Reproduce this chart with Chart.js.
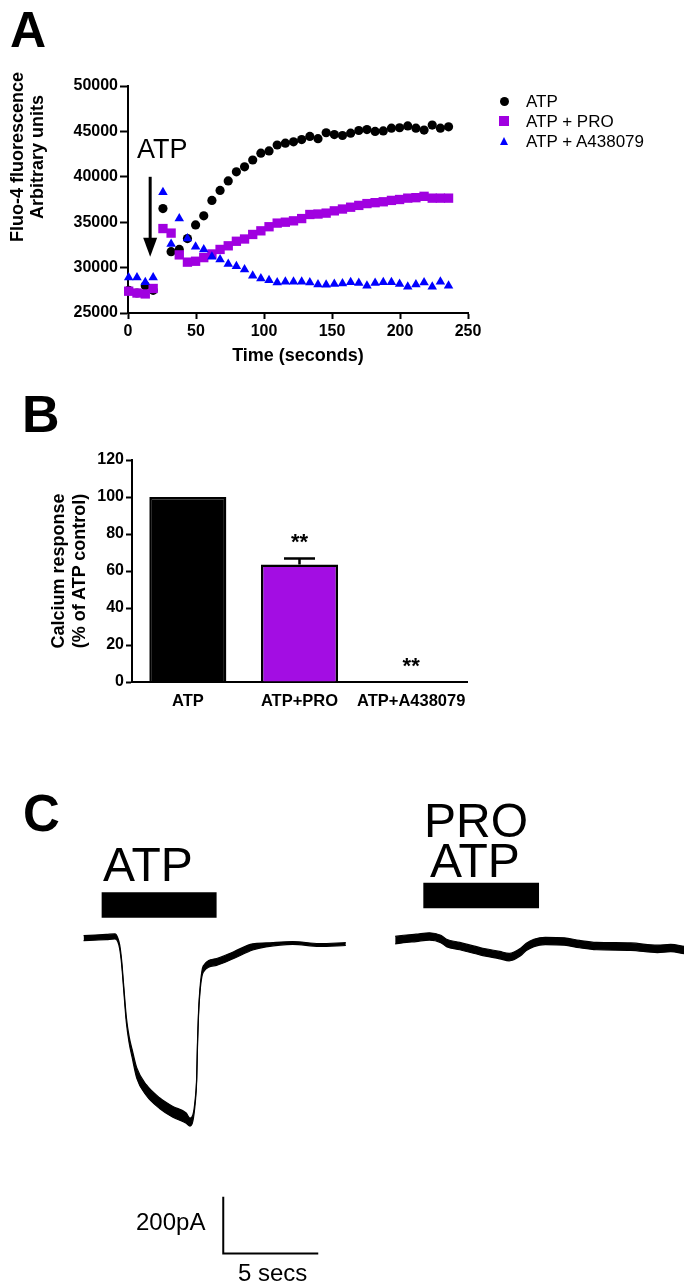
<!DOCTYPE html>
<html><head><meta charset="utf-8">
<script src="https://cdn.jsdelivr.net/npm/chart.js"></script>
<style>
html,body{margin:0;padding:0;background:#fff;}
#wrap{position:relative;width:692px;height:1288px;overflow:hidden;background:#fff;font-family:'Liberation Sans',Arial,sans-serif;color:#000;}
canvas{position:absolute;left:0;}
.t{position:absolute;white-space:nowrap;line-height:1;}
.b{font-weight:bold;}
.yt{position:absolute;width:240px;text-align:center;font-weight:bold;transform:rotate(-90deg);white-space:nowrap;}
.mk{position:absolute;}
</style></head><body>
<div id="wrap">
<canvas id="cA" width="692" height="370" style="top:0"></canvas>
<canvas id="cB" width="692" height="340" style="top:380px"></canvas>
<canvas id="cC" width="692" height="508" style="top:780px"></canvas>

<div class="t b" style="font-size:50px;left:10px;top:5px;">A</div>
<div class="t b" style="font-size:52px;left:22px;top:388px;">B</div>
<div class="t b" style="font-size:51px;left:23px;top:788px;">C</div>

<div class="yt" style="font-size:18px;line-height:20px;left:-93px;top:137px;">Fluo-4 fluorescence<br>Arbitrary units</div>
<div class="t" style="font-size:27px;left:137px;top:136px;">ATP</div>

<div class="mk" style="left:499.5px;top:96.5px;width:9px;height:9px;border-radius:50%;background:#000;"></div>
<div class="mk" style="left:499px;top:116px;width:10px;height:10px;background:#a000e0;"></div>
<div class="mk" style="left:499.5px;top:136.5px;width:0;height:0;border-left:4.5px solid transparent;border-right:4.5px solid transparent;border-bottom:8px solid #0000ff;"></div>
<div class="t" style="font-size:17px;left:526px;top:92.5px;">ATP</div>
<div class="t" style="font-size:17px;left:526px;top:112.5px;">ATP + PRO</div>
<div class="t" style="font-size:17px;left:526px;top:132.5px;">ATP + A438079</div>

<div class="yt" style="font-size:18px;line-height:21px;left:-51.5px;top:550px;">Calcium response<br>(% of ATP control)</div>

<div class="t" style="font-size:48px;left:103px;top:841px;">ATP</div>
<div class="t" style="font-size:48px;left:424px;top:797px;">PRO</div>
<div class="t" style="font-size:48px;left:430px;top:837px;">ATP</div>
<div class="t" style="font-size:24px;left:136px;top:1210px;">200pA</div>
<div class="t" style="font-size:24px;left:238px;top:1261px;">5 secs</div>
</div>
<script>
// ---------- Panel A data ----------
const timeSec = [0.5, 6.6, 12.7, 18.5, 25.7, 31.7, 37.7, 43.7, 49.7, 55.7, 61.7, 67.7, 73.7, 79.7, 85.7, 91.7, 97.7, 103.7, 109.7, 115.7, 121.7, 127.7, 133.7, 139.7, 145.7, 151.7, 157.7, 163.7, 169.7, 175.7, 181.7, 187.7, 193.7, 199.7, 205.7, 211.7, 217.7, 223.7, 229.7, 235.7];
const atpValues = [27500, 27200, 28000, 27500, 36500, 31750, 32000, 33200, 34700, 35700, 37400, 38500, 39550, 40550, 41100, 41850, 42600, 42850, 43500, 43700, 43850, 44100, 44450, 44200, 44850, 44650, 44550, 44800, 45100, 45200, 45000, 45050, 45350, 45400, 45600, 45350, 45150, 45700, 45350, 45500];
const atpProValues = [27400, 27200, 27100, 27700, 34300, 33800, 31400, 30600, 30700, 31100, 31500, 32000, 32400, 32900, 33150, 33650, 34050, 34500, 34900, 35000, 35150, 35400, 35850, 35900, 36000, 36250, 36450, 36650, 36850, 37050, 37150, 37250, 37400, 37500, 37650, 37700, 37850, 37650, 37650, 37650];
const atpA438079Values = [28900, 28900, 28400, 28900, 38300, 32600, 35400, 33200, 32300, 32000, 31200, 30900, 30400, 30150, 29800, 29100, 28800, 28600, 28350, 28450, 28450, 28450, 28350, 28150, 28100, 28200, 28250, 28400, 28300, 28000, 28300, 28400, 28400, 28200, 27900, 28150, 28350, 27900, 28450, 28000];
const xTicksA = [0, 50, 100, 150, 200, 250];
const yTicksA = [25000, 30000, 35000, 40000, 45000, 50000];
const arrowA = {x: 16.3, top: 40000, headBase: 33300, tip: 31200};

// ---------- Panel B data ----------
const groupLabels = ['ATP', 'ATP+PRO', 'ATP+A438079'];
const responsePct = [100, 63.5, 0];
const responseSem = [0, 3.3, 0];
const significance = ['', '**', '**'];
const yTicksB = [0, 20, 40, 60, 80, 100, 120];

// ---------- Panel C data (time in s, current in pA) ----------
const trace1Time  = [4.4, 5.0, 5.6, 6.05, 6.2, 6.3, 6.4, 6.5, 6.65, 6.8, 6.95, 7.2, 7.7, 8.4, 9.1, 9.8, 10.0, 10.15, 10.28, 10.35, 10.4, 10.45, 10.55, 10.7, 11.4, 12.3, 13.3, 14.0, 15.4, 16.8, 18.2];
const trace1Upper = [5, 7, 9, 11, -3, -28, -81, -163, -284, -353, -396, -463, -522, -568, -599, -622, -640, -629, -569, -500, -359, -264, -163, -102, -76, -52, -24, -21, -16, -23, -20];
const trace1Lower = [-13, -11, -9, -7, -17, -42, -95, -177, -302, -375, -424, -499, -560, -606, -637, -658, -668, -651, -583, -510, -369, -274, -177, -124, -100, -76, -46, -35, -26, -33, -30];
const trace2Time  = [20.8, 21.4, 21.9, 22.6, 23.2, 23.5, 24.2, 25.3, 26.3, 26.8, 27.4, 27.7, 28.1, 28.7, 29.7, 30.5, 31.4, 33.2, 34.6, 35.3, 36.0];
const trace2Upper = [2, 7, 10, 15, 6, -8, -19, -38, -51, -58, -40, -22, -8, -1, -3, -12, -19, -21, -29, -26, -33];
const trace2Lower = [-24, -19, -16, -11, -20, -34, -45, -64, -77, -84, -66, -48, -34, -27, -29, -38, -45, -47, -55, -52, -59];
const atpBar1 = {start: 5.35, end: 11.4, level: 113};
const atpBar2 = {start: 22.28, end: 28.37, level: 147};
const scaleBar = {x: 11.75, y: -1118, secs: 5, pA: 200};

const FONT = "'Liberation Sans', Arial, sans-serif";
Chart.defaults.font.family = FONT;
Chart.defaults.color = '#000';

// ---------- Chart A ----------
const pts = arr => timeSec.map((t, i) => ({x: t, y: arr[i]}));
const arrowPlugin = {
  id: 'arrowA',
  afterDatasetsDraw(chart) {
    const {ctx, scales: {x, y}} = chart;
    const px = x.getPixelForValue(arrowA.x);
    ctx.save();
    ctx.strokeStyle = '#000'; ctx.fillStyle = '#000'; ctx.lineWidth = 3;
    ctx.beginPath();
    ctx.moveTo(px, y.getPixelForValue(arrowA.top));
    ctx.lineTo(px, y.getPixelForValue(arrowA.headBase) + 2);
    ctx.stroke();
    const hb = y.getPixelForValue(arrowA.headBase), tp = y.getPixelForValue(arrowA.tip);
    ctx.beginPath();
    ctx.moveTo(px - 7, hb); ctx.lineTo(px + 7, hb); ctx.lineTo(px, tp); ctx.closePath();
    ctx.fill();
    ctx.restore();
  }
};
new Chart(document.getElementById('cA'), {
  type: 'scatter',
  data: {
    datasets: [
      {label: 'ATP + A438079', data: pts(atpA438079Values), pointStyle: 'triangle', pointRadius: 5.5, backgroundColor: '#0000ff', borderColor: '#0000ff', borderWidth: 0, order: 0, clip: false},
      {label: 'ATP + PRO', data: pts(atpProValues), pointStyle: 'rect', pointRadius: 6.6, backgroundColor: '#a000e0', borderColor: '#a000e0', borderWidth: 0, order: 1, clip: false},
      {label: 'ATP', data: pts(atpValues), pointStyle: 'circle', pointRadius: 4.6, backgroundColor: '#000', borderColor: '#000', borderWidth: 0, order: 2, clip: false}
    ]
  },
  options: {
    responsive: false, animation: false, devicePixelRatio: 1,
    layout: {padding: {top: 86, right: 224, bottom: 0, left: 0}},
    plugins: {legend: {display: false}, tooltip: {enabled: false}},
    events: [],
    scales: {
      x: {
        type: 'linear', min: 0, max: 250,
        afterBuildTicks: s => { s.ticks = xTicksA.map(v => ({value: v})); },
        afterFit: s => { s.height = 57; },
        ticks: {font: {size: 16, weight: 'bold'}, color: '#000', padding: 3, maxRotation: 0, autoSkip: false, callback: v => String(v)},
        grid: {drawOnChartArea: false, drawTicks: true, tickLength: 6, tickWidth: 2, tickColor: '#000'},
        border: {color: '#000', width: 2},
        title: {display: true, text: 'Time (seconds)', font: {size: 18, weight: 'bold'}, color: '#000', padding: {top: 0, bottom: 3}}
      },
      y: {
        min: 25000, max: 50000,
        afterBuildTicks: s => { s.ticks = yTicksA.map(v => ({value: v})); },
        afterFit: s => { s.width = 128; },
        ticks: {font: {size: 16, weight: 'bold'}, color: '#000', padding: 2, autoSkip: false, callback: v => String(v)},
        grid: {drawOnChartArea: false, drawTicks: true, tickLength: 8, tickWidth: 2, tickColor: '#000'},
        border: {color: '#000', width: 2}
      }
    }
  },
  plugins: [arrowPlugin]
});

// ---------- Chart B ----------
const errorPlugin = {
  id: 'errB',
  afterDatasetsDraw(chart) {
    const {ctx, scales: {y}} = chart;
    const meta = chart.getDatasetMeta(0);
    ctx.save();
    ctx.strokeStyle = '#000'; ctx.fillStyle = '#000'; ctx.lineWidth = 2.5;
    meta.data.forEach((bar, i) => {
      const top = responsePct[i] + responseSem[i];
      if (responseSem[i] > 0) {
        const y0 = y.getPixelForValue(responsePct[i]), y1 = y.getPixelForValue(top);
        ctx.beginPath();
        ctx.moveTo(bar.x, y0); ctx.lineTo(bar.x, y1);
        ctx.moveTo(bar.x - 15.5, y1); ctx.lineTo(bar.x + 15.5, y1);
        ctx.stroke();
      }
      if (significance[i]) {
        const f = 22;
        ctx.font = 'bold ' + f + 'px ' + FONT;
        ctx.textAlign = 'center'; ctx.textBaseline = 'alphabetic';
        ctx.fillText(significance[i], bar.x, y.getPixelForValue(top + 12) + 0.585 * f);
      }
    });
    ctx.restore();
  }
};
new Chart(document.getElementById('cB'), {
  type: 'bar',
  data: {
    labels: groupLabels,
    datasets: [{
      data: responsePct,
      backgroundColor: ['#000000', '#a30de3', '#ffffff'],
      borderColor: '#000', borderWidth: 2.5, borderSkipped: 'bottom',
      barPercentage: 0.69, categoryPercentage: 1.0
    }]
  },
  options: {
    responsive: false, animation: false, devicePixelRatio: 1,
    layout: {padding: {top: 80, right: 225, bottom: 0, left: 0}},
    plugins: {legend: {display: false}, tooltip: {enabled: false}},
    events: [],
    scales: {
      x: {
        afterFit: s => { s.height = 38; },
        ticks: {font: {size: 16.5, weight: 'bold'}, color: '#000', padding: 10, maxRotation: 0, autoSkip: false},
        grid: {display: false, drawTicks: false},
        border: {display: true, color: '#000', width: 2}
      },
      y: {
        min: 0, max: 120,
        afterBuildTicks: s => { s.ticks = yTicksB.map(v => ({value: v})); },
        afterFit: s => { s.width = 132; },
        ticks: {font: {size: 16, weight: 'bold'}, color: '#000', padding: 2, autoSkip: false},
        grid: {drawOnChartArea: false, drawTicks: true, tickLength: 6, tickWidth: 2, tickColor: '#000'},
        border: {color: '#000', width: 2}
      }
    }
  },
  plugins: [errorPlugin]
});

// ---------- Chart C ----------
const xy = (ts, vs) => ts.map((t, i) => ({x: t, y: vs[i]}));
const traceStyle = {borderColor: '#000', borderWidth: 1.2, pointRadius: 0, cubicInterpolationMode: 'monotone', backgroundColor: '#000'};
new Chart(document.getElementById('cC'), {
  type: 'line',
  data: {
    datasets: [
      Object.assign({data: xy(trace1Time, trace1Upper), fill: false}, traceStyle),
      Object.assign({data: xy(trace1Time, trace1Lower), fill: '-1'}, traceStyle),
      Object.assign({data: xy(trace2Time, trace2Upper), fill: false}, traceStyle),
      Object.assign({data: xy(trace2Time, trace2Lower), fill: '-1'}, traceStyle),
      {data: [{x: atpBar1.start, y: atpBar1.level}, {x: atpBar1.end, y: atpBar1.level}], borderColor: '#000', borderWidth: 25.5, borderCapStyle: 'butt', pointRadius: 0, fill: false},
      {data: [{x: atpBar2.start, y: atpBar2.level}, {x: atpBar2.end, y: atpBar2.level}], borderColor: '#000', borderWidth: 25.5, borderCapStyle: 'butt', pointRadius: 0, fill: false},
      {data: [{x: scaleBar.x, y: scaleBar.y + scaleBar.pA}, {x: scaleBar.x, y: scaleBar.y}, {x: scaleBar.x + scaleBar.secs, y: scaleBar.y}], borderColor: '#000', borderWidth: 2, borderJoinStyle: 'miter', borderCapStyle: 'butt', pointRadius: 0, fill: false}
    ]
  },
  options: {
    responsive: false, animation: false, devicePixelRatio: 1,
    layout: {padding: 0},
    plugins: {legend: {display: false}, tooltip: {enabled: false}},
    events: [],
    scales: {
      x: {type: 'linear', min: 0, max: 36.421, display: false},
      y: {type: 'linear', min: -1240.3, max: 554.8, display: false}
    }
  }
});
</script>
</body></html>
